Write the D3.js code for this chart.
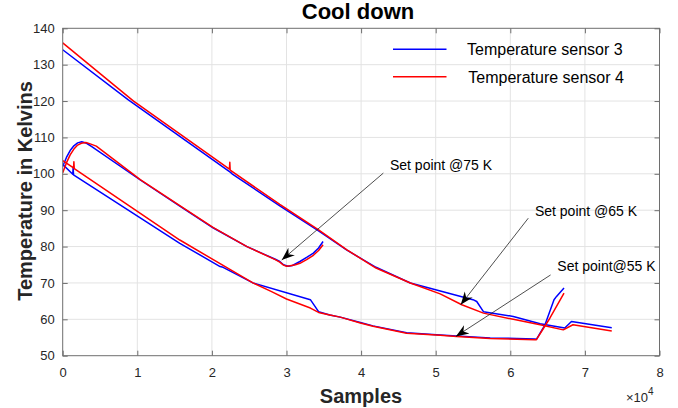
<!DOCTYPE html>
<html lang="en">
<head>
<meta charset="UTF-8">
<title>Cool down</title>
<script src="https://d3js.org/d3.v7.min.js"></script>
<style>
    body { margin: 0; background: #fff; }
    svg { display: block; font-family: "Liberation Sans", Arial, sans-serif; }
    .tick text { font-size: 13px; fill: #262626; }
    .tick line { stroke: #6e6e6e; }
    .domain { display: none; }
</style>
</head>
<body>
<div id="chart"></div>
<script>
    // axis ticks
    const xTicks = [0, 10000, 20000, 30000, 40000, 50000, 60000, 70000, 80000];
    const yTicks = [50, 60, 70, 80, 90, 100, 110, 120, 130, 140];

    // run 1 (from ~135 K down to ~57 K)
    const s3Run1 = [[0,134.1],[8800,120.3],[22500,100.4],[22700,100.0],[29100,91.2],[34300,84.3],
        [38100,79.0],[42000,74.3],[46600,70.0],[55000,65.4],[55500,64.9],[56400,62.1],[60400,60.8],
        [64000,58.8],[67300,57.6],[68200,59.4],[73600,57.7]];
    const s4Run1 = [[0,136.0],[9500,120.0],[22350,101.3],[22400,103.2],[22450,101.0],[29100,91.6],
        [34300,84.6],[38100,79.1],[42000,74.1],[46600,70.0],[50600,67.0],[53500,64.0],[56400,61.7],
        [60400,60.0],[64000,58.5],[67100,57.1],[68400,58.5],[73600,56.8]];

    // run 2 (set point 75 K)
    const s3Run2 = [[0,102.0],[500,104.5],[1000,106.4],[1500,107.7],[2000,108.5],[2550,108.8],
        [3200,108.4],[3900,107.5],[10400,98.3],[15800,91.0],[20200,85.1],[24700,80.0],[28500,76.5],
        [29100,75.9],[29600,75.0],[30200,74.6],[30800,74.8],[31800,75.9],[32700,77.0],[33600,78.2],
        [34300,79.6],[34900,81.4]];
    const s4Run2 = [[0,100.3],[500,103.0],[1000,105.2],[1500,106.8],[2000,107.9],[2500,108.4],
        [3100,108.6],[3600,108.3],[4500,107.6],[10400,98.4],[15800,91.1],[20200,85.2],[24700,80.0],
        [28500,76.4],[29100,75.7],[29600,74.9],[30000,74.6],[30500,74.7],[31200,75.0],[31800,75.4],
        [32700,76.4],[33600,77.6],[34300,78.9],[34900,80.5]];

    // run 3 (set point 55 K)
    const s3Run3 = [[0,102.6],[1350,99.9],[1400,101.8],[1450,99.7],[15700,80.9],[21100,74.5],
        [21500,74.3],[25500,70.0],[33200,65.4],[34300,62.1],[35800,61.2],[37200,60.6],[39900,59.1],
        [41600,58.2],[46100,56.3],[50600,55.7],[52800,55.4],[57300,54.9],[63300,54.6],[63500,54.5],
        [64650,58.5],[65860,65.4],[66200,66.3],[67200,68.6]];
    const s4Run3 = [[0,103.6],[1450,101.6],[1500,103.3],[1550,101.4],[15700,81.8],[25500,70.0],
        [28000,67.6],[30000,65.6],[33200,63.1],[34300,61.9],[35800,61.2],[37200,60.6],[39900,59.0],
        [41600,58.1],[46100,56.2],[50600,55.6],[52800,55.3],[57300,54.7],[63300,54.4],[63500,54.4],
        [65300,60.3],[67200,67.2]];

    const seriesNames = ["Temperature sensor 3", "Temperature sensor 4"];
    const seriesColors = ["#0000ff", "#ff0000"];

    // annotations: arrow tail, arrow tip, text anchor (samples, K)
    const notes = [
        {label: "Set point @75 K", tail: [42980, 100.2], tip: [29360, 76.3], at: [43870, 101.1]},
        {label: "Set point @65 K", tail: [62410, 87.8], tip: [53350, 64.0], at: [63300, 88.5]},
        {label: "Set point@55 K", tail: [65400, 72.2], tip: [52700, 55.3], at: [66300, 73.3]}
    ];

    const W = 678, H = 408;
    const margin = {top: 28.3, right: 18.5, bottom: 52.3, left: 62.7};
    const width = W - margin.left - margin.right;
    const height = H - margin.top - margin.bottom;

    const svg = d3.select("#chart").append("svg")
        .attr("width", W)
        .attr("height", H);

    const g = svg.append("g")
        .attr("transform", `translate(${margin.left},${margin.top})`);

    const x = d3.scaleLinear().domain([0, 80000]).range([0, width]);
    const y = d3.scaleLinear().domain([50, 140]).range([height, 0]);

    // grid
    g.append("g").selectAll("line").data(xTicks.slice(1, -1)).enter().append("line")
        .attr("x1", d => x(d)).attr("x2", d => x(d))
        .attr("y1", 0).attr("y2", height)
        .attr("stroke", "#e3e3e3");
    g.append("g").selectAll("line").data(yTicks.slice(1, -1)).enter().append("line")
        .attr("y1", d => y(d)).attr("y2", d => y(d))
        .attr("x1", 0).attr("x2", width)
        .attr("stroke", "#e3e3e3");

    // axes with inward ticks
    g.append("g")
        .attr("transform", `translate(0,${height})`)
        .call(d3.axisBottom(x).tickValues(xTicks).tickFormat(d => d / 10000)
            .tickSizeInner(-5).tickSizeOuter(0).tickPadding(12));
    g.append("g")
        .call(d3.axisTop(x).tickValues(xTicks).tickFormat("")
            .tickSizeInner(-5).tickSizeOuter(0));
    g.append("g")
        .call(d3.axisLeft(y).tickValues(yTicks)
            .tickSizeInner(-5).tickSizeOuter(0).tickPadding(8));
    g.append("g")
        .attr("transform", `translate(${width},0)`)
        .call(d3.axisRight(y).tickValues(yTicks).tickFormat("")
            .tickSizeInner(-5).tickSizeOuter(0));

    // clip
    svg.append("defs").append("clipPath").attr("id", "plot")
        .append("rect").attr("width", width).attr("height", height);

    const line = d3.line().x(d => x(d[0])).y(d => y(d[1]));
    const plot = g.append("g").attr("clip-path", "url(#plot)");

    const runs = [[s3Run1, 0], [s3Run2, 0], [s3Run3, 0], [s4Run1, 1], [s4Run2, 1], [s4Run3, 1]];
    plot.selectAll("path.run").data(runs).enter().append("path")
        .attr("class", "run")
        .attr("d", d => line(d[0]))
        .attr("fill", "none")
        .attr("stroke", d => seriesColors[d[1]])
        .attr("stroke-width", 1.5)
        .attr("stroke-linejoin", "round");

    // box
    g.append("rect")
        .attr("width", width).attr("height", height)
        .attr("fill", "none")
        .attr("stroke", "#6e6e6e")
        .attr("stroke-width", 1);

    // arrowhead
    svg.select("defs").append("marker")
        .attr("id", "head")
        .attr("viewBox", "-13 -6 14 12")
        .attr("refX", 0).attr("refY", 0)
        .attr("markerWidth", 14).attr("markerHeight", 12)
        .attr("markerUnits", "userSpaceOnUse")
        .attr("orient", "auto")
        .append("path")
        .attr("d", "M0,0 L-13,-5 L-9,0 L-13,5 Z")
        .attr("fill", "#000");

    const ann = g.append("g");
    ann.selectAll("line").data(notes).enter().append("line")
        .attr("x1", d => x(d.tail[0])).attr("y1", d => y(d.tail[1]))
        .attr("x2", d => x(d.tip[0])).attr("y2", d => y(d.tip[1]))
        .attr("stroke", "#222")
        .attr("stroke-width", 0.8)
        .attr("marker-end", "url(#head)");
    ann.selectAll("text").data(notes).enter().append("text")
        .attr("x", d => x(d.at[0])).attr("y", d => y(d.at[1]))
        .attr("font-size", "14px")
        .attr("fill", "#000")
        .text(d => d.label);

    // legend (no box)
    const legend = svg.append("g");
    seriesNames.forEach((name, i) => {
        const ly = 49.3 + i * 27.4;
        legend.append("line")
            .attr("x1", 393).attr("x2", 446.5)
            .attr("y1", ly).attr("y2", ly)
            .attr("stroke", seriesColors[i])
            .attr("stroke-width", 1.5);
        legend.append("text")
            .attr("x", 467 + i * 1.3).attr("y", ly + 5.8)
            .attr("font-size", "16px")
            .attr("fill", "#000")
            .text(name);
    });

    // title and labels
    svg.append("text")
        .attr("x", 358).attr("y", 19)
        .attr("text-anchor", "middle")
        .attr("font-size", "22px").attr("font-weight", "bold")
        .attr("fill", "#000")
        .text("Cool down");

    svg.append("text")
        .attr("x", 361).attr("y", 403)
        .attr("text-anchor", "middle")
        .attr("font-size", "20px").attr("font-weight", "bold")
        .attr("fill", "#262626")
        .text("Samples");

    svg.append("text")
        .attr("transform", "translate(32,191) rotate(-90)")
        .attr("text-anchor", "middle")
        .attr("font-size", "20px").attr("font-weight", "bold")
        .attr("fill", "#262626")
        .text("Temperature in Kelvins");

    const expo = svg.append("text")
        .attr("x", 626).attr("y", 401.5)
        .attr("font-size", "13px")
        .attr("fill", "#262626");
    expo.append("tspan").text("\u00d710");
    expo.append("tspan").attr("dy", -7).attr("font-size", "10px").text("4");
</script>
</body>
</html>
